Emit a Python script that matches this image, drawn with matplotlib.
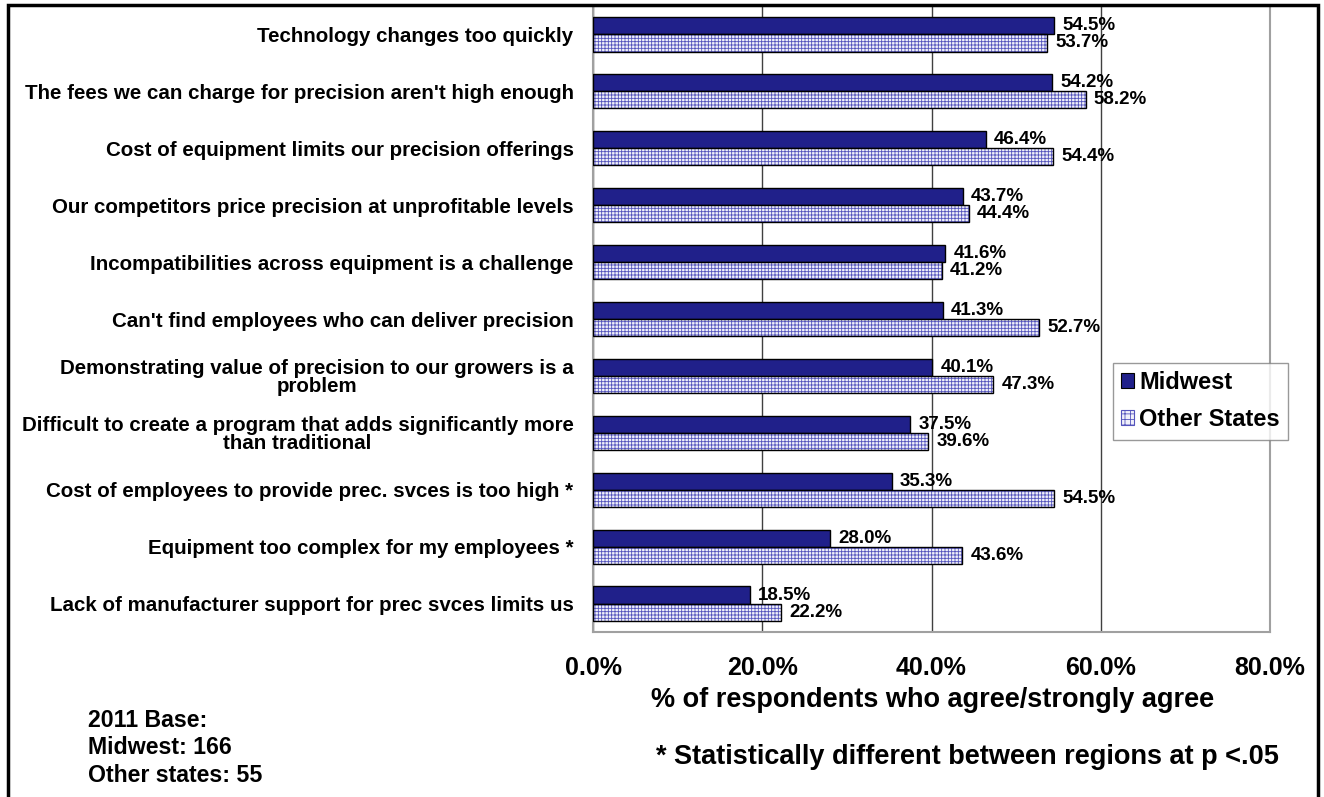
import matplotlib
matplotlib.use("Agg")
import matplotlib.pyplot as plt
from matplotlib.patches import Patch, Rectangle

plt.rcParams["font.family"] = ["Liberation Sans", "DejaVu Sans"]
plt.rcParams["font.weight"] = "bold"
plt.rcParams["hatch.linewidth"] = 0.6

# ── data ──────────────────────────────────────────────────────────────────────
categories = [
    "Technology changes too quickly",
    "The fees we can charge for precision aren't high enough",
    "Cost of equipment limits our precision offerings",
    "Our competitors price precision at unprofitable levels",
    "Incompatibilities across equipment is a challenge",
    "Can't find employees who can deliver precision",
    "Demonstrating value of precision to our growers is a\nproblem",
    "Difficult to create a program that adds significantly more\nthan traditional",
    "Cost of employees to provide prec. svces is too high *",
    "Equipment too complex for my employees *",
    "Lack of manufacturer support for prec svces limits us",
]
midwest = [54.5, 54.2, 46.4, 43.7, 41.6, 41.3, 40.1, 37.5, 35.3, 28.0, 18.5]
other_states = [53.7, 58.2, 54.4, 44.4, 41.2, 52.7, 47.3, 39.6, 54.5, 43.6, 22.2]
series_names = ["Midwest", "Other States"]
x_ticks = [0, 20, 40, 60, 80]
x_ticklabels = ["0.0%", "20.0%", "40.0%", "60.0%", "80.0%"]

MIDWEST_COLOR = "#20208a"
HATCH_COLOR = "#5454bc"
HATCH = "+++++"   # fine grid, ~3 px spacing

fig = plt.figure(figsize=(13.24, 7.97), dpi=100)
ax = fig.add_axes([593 / 1324, 1 - 632 / 797, 677 / 1324, 626 / 797])

ypos = list(range(len(categories)))
h = 0.30

ax.barh([y - h / 2 for y in ypos], midwest, height=h, color=MIDWEST_COLOR,
        edgecolor="black", linewidth=1.0, zorder=3)
# hatched fill, then a black outline on top (hatch takes the edge colour)
ax.barh([y + h / 2 for y in ypos], other_states, height=h, color="#f0f0fa",
        hatch=HATCH, edgecolor=HATCH_COLOR, linewidth=0, zorder=3)
ax.barh([y + h / 2 for y in ypos], other_states, height=h, fill=False,
        edgecolor="black", linewidth=1.0, zorder=4)

for y, v in zip(ypos, midwest):
    ax.annotate(f"{v:.1f}%", (v, y - h / 2), xytext=(6, 0), textcoords="offset points",
                va="center", ha="left", fontsize=13.5, zorder=5)
for y, v in zip(ypos, other_states):
    ax.annotate(f"{v:.1f}%", (v, y + h / 2), xytext=(6, 0), textcoords="offset points",
                va="center", ha="left", fontsize=13.5, zorder=5)

ax.set_xlim(0, 80)
ax.set_ylim(len(categories) - 0.5, -0.5)
ax.set_xticks(x_ticks)
ax.set_xticklabels(x_ticklabels, fontsize=18)
ax.set_yticks(ypos)
ax.set_yticklabels(categories, fontsize=14.8, linespacing=0.95, ha="right")
ax.tick_params(axis="y", length=0, pad=14)
ax.tick_params(axis="x", length=0, pad=17)
for lbl in ax.get_yticklabels():
    lbl.set_multialignment("center")

ax.grid(axis="x", color="#404040", linewidth=1.0, zorder=0)
ax.set_axisbelow(True)
for s in ax.spines.values():
    s.set_color("#a0a0a0")
    s.set_linewidth(1.5)

handles = [
    Patch(facecolor=MIDWEST_COLOR, edgecolor="black", linewidth=0.8),
    Patch(facecolor="#f0f0fa", hatch="+++", edgecolor=HATCH_COLOR, linewidth=0.8),
]
leg = ax.legend(handles, series_names, loc="upper left", bbox_to_anchor=(0.768, 0.43),
                fontsize=17, frameon=True, fancybox=False, edgecolor="#808080",
                handlelength=0.55, handleheight=0.6, handletextpad=0.2,
                labelspacing=0.6, borderpad=0.35, borderaxespad=0)
leg.get_frame().set_linewidth(1.0)
leg.set_zorder(6)

fig.text(933 / 1324, 1 - 700 / 797, "% of respondents who agree/strongly agree",
         ha="center", va="center", fontsize=19.5)
fig.text(967 / 1324, 1 - 757 / 797, "* Statistically different between regions at p <.05",
         ha="center", va="center", fontsize=19.5)
fig.text(88 / 1324, 1 - 709 / 797, "2011 Base:\nMidwest: 166\nOther states: 55",
         ha="left", va="top", fontsize=16.7, linespacing=1.25)

# outer border of the slide
fig.patches.append(Rectangle((8 / 1324, -0.05), 1310 / 1324, 1.05 - 5 / 797,
                             transform=fig.transFigure, fill=False,
                             edgecolor="black", linewidth=2.5))

fig.savefig("out.png", dpi=100)
